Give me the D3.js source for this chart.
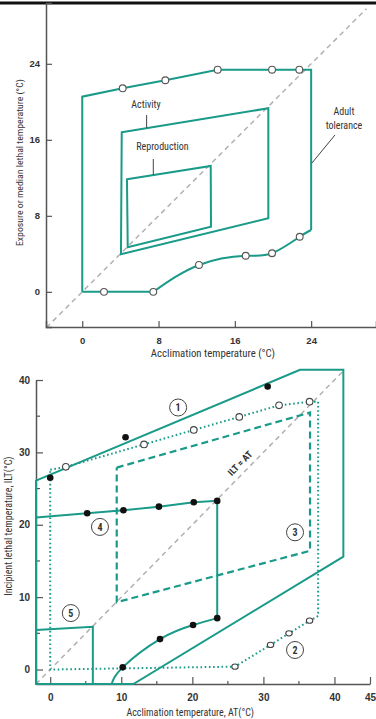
<!DOCTYPE html>
<html><head><meta charset="utf-8">
<script src="https://cdn.jsdelivr.net/npm/d3@7"></script>
<style>
html,body{margin:0;padding:0;background:#fff;}
svg{display:block;}
text{font-family:"Liberation Sans Narrow","Roboto Condensed","Arial Narrow","Liberation Sans",sans-serif;font-stretch:condensed;fill:#333;}
</style></head>
<body>
<svg id="c" width="376" height="719"></svg>
<script>
// ---------- Top chart data ----------
const topXTicks = [0, 8, 16, 24];
const topYTicks = [0, 8, 16, 24];
// Adult tolerance: upper bound (open circles) and lower bound (open circles)
const adultUpperX = [4.24, 8.71, 14.2, 19.9, 22.76];
const adultUpperY = [21.42, 22.27, 23.38, 23.38, 23.38];
const adultLowerX = [2.28, 7.45, 12.24, 17.14, 19.9, 22.8];
const adultLowerY = [0, 0, 2.83, 3.8, 4.06, 5.8];
const adultOutlineX = [0, 0, 4.24, 8.71, 14.2, 19.9, 22.76, 24.0, 24.0];
const adultOutlineY = [0, 20.54, 21.42, 22.27, 23.38, 23.38, 23.38, 23.38, 6.51];
const adultCurveX = [24.0, 22.8, 19.9, 17.14, 12.24, 7.45];
const adultCurveY = [6.51, 5.8, 4.06, 3.8, 2.83, 0];
const activityX = [4.14, 19.51, 19.51, 4.06];
const activityY = [16.79, 19.32, 7.74, 3.95];
const reproX = [4.69, 13.47, 13.5, 4.77];
const reproY = [11.85, 13.25, 6.86, 4.69];

// ---------- Bottom chart data ----------
const botXTicks = [0, 10, 20, 30, 40, 45];
const botXMinor = [5, 15, 25, 35];
const botYTicks = [0, 10, 20, 30, 40];
const botYMinor = [5, 15, 25, 35];
// 1: solid envelope
const env1X = [-2, 35.15, 41.25, 41.25, 11.7, -2];
const env1Y = [26.1, 41.4, 41.4, 15.6, -2, -2];
const dots1X = [0, 10.6, 30.6];
const dots1Y = [26.5, 32.1, 39.1];
// upper dotted (open circles)
const upOpenX = [2.2, 13.2, 20.2, 26.6, 32.2, 36.5];
const upOpenY = [28.0, 31.1, 33.1, 34.9, 36.5, 37.0];
// lower dotted (open circles, 2)
const lowOpenX = [26.0, 31.0, 33.6, 36.5];
const lowOpenY = [0.4, 3.4, 5.0, 6.75];
const dottedX = [0, 2.2, 13.2, 20.2, 26.6, 32.2, 36.5, 37.7, 37.7, 36.5, 33.6, 31.0, 26.0, 0, 0];
const dottedY = [27.6, 28.0, 31.1, 33.1, 34.9, 36.5, 37.0, 37.0, 7.4, 6.75, 5.0, 3.4, 0.4, 0, 27.6];
// 3: dashed
const dash3X = [9.36, 36.56, 36.56, 9.36, 9.36];
const dash3Y = [27.9, 35.5, 16.4, 9.3, 27.9];
// 4: solid with filled dots
const line4TopX = [-2, 5.2, 10.3, 15.3, 20.2, 23.5];
const line4TopY = [21.0, 21.6, 22.0, 22.5, 23.1, 23.3];
const line4CurveX = [23.5, 20.1, 15.45, 10.2, 8.65];
const line4CurveY = [7.1, 6.15, 4.2, 0.3, -2];
const dots4X = [5.2, 10.3, 15.3, 20.2, 23.5, 23.5, 20.1, 15.45, 10.2];
const dots4Y = [21.6, 22.0, 22.5, 23.1, 23.3, 7.1, 6.15, 4.2, 0.3];
// 5
const line5X = [-2, 6.0, 6.0];
const line5Y = [5.46, 5.9, -2];
// region labels
const regionLabels = ["1", "2", "3", "4", "5"];
const regionLabelX = [18.0, 34.45, 34.45, 7.0, 2.9];
const regionLabelY = [36.2, 2.7, 18.96, 19.7, 7.8];

const TEAL = "#1a9a88";
const AX = "#555";
const svg = d3.select("#c");
const zip = (xs, ys) => xs.map((v, i) => [v, ys[i]]);

// top rule
svg.append("line").attr("x1", 0).attr("x2", 376).attr("y1", 3).attr("y2", 3)
  .attr("stroke", "#111").attr("stroke-width", 3);

// ================= TOP CHART =================
{
  const x = d3.scaleLinear([-3.8, 30.8], [46, 376]);
  const y = d3.scaleLinear([-3.7, 30.4], [327, 3]);
  const g = svg.append("g");
  const line = d3.line().x(d => x(d[0])).y(d => y(d[1]));
  const curve = d3.line().x(d => x(d[0])).y(d => y(d[1])).curve(d3.curveNatural);

  // diagonal
  g.append("path").attr("d", line([[-3.75, -3.75], [29.8, 29.8]]))
    .attr("stroke", "#b0b0b0").attr("stroke-width", 1.5).attr("stroke-dasharray", "5,4").attr("fill", "none");

  // axes
  const xa = d3.axisBottom(x).tickValues(topXTicks).tickSize(-6).tickPadding(10).tickFormat(d3.format("d"));
  const ya = d3.axisLeft(y).tickValues(topYTicks).tickSize(-6).tickPadding(10).tickFormat(d3.format("d"));
  const gx = g.append("g").attr("transform", `translate(0,${y(-3.7)})`).call(xa);
  const gy = g.append("g").attr("transform", `translate(${x(-3.8)},0)`).call(ya);
  [gx, gy].forEach(a => {
    a.select(".domain").attr("stroke", AX).attr("stroke-width", 1.5);
    a.selectAll(".tick line").attr("stroke", AX).attr("stroke-width", 1.2);
    a.selectAll(".tick text").attr("fill", "#333").style("font-size", "9.5px").style("font-weight", "bold")
      .style("font-family", '"Liberation Sans Narrow","Arial Narrow",sans-serif');
  });
  gy.selectAll(".tick text").attr("dx", "4");

  // adult tolerance outline
  g.append("path").attr("d", line(zip(adultOutlineX, adultOutlineY)))
    .attr("fill", "none").attr("stroke", TEAL).attr("stroke-width", 2);
  g.append("path").attr("d", curve(zip(adultCurveX, adultCurveY).slice(0, 5).concat([[7.45, 0]])))
    .attr("fill", "none").attr("stroke", TEAL).attr("stroke-width", 2);
  g.append("path").attr("d", line([[7.45, 0], [0, 0]]))
    .attr("fill", "none").attr("stroke", TEAL).attr("stroke-width", 2);

  // activity & reproduction
  g.append("path").attr("d", line(zip(activityX, activityY)) + "Z")
    .attr("fill", "none").attr("stroke", TEAL).attr("stroke-width", 2);
  g.append("path").attr("d", line(zip(reproX, reproY)) + "Z")
    .attr("fill", "none").attr("stroke", TEAL).attr("stroke-width", 2);

  // open circles
  g.selectAll(".oc").data(zip(adultUpperX, adultUpperY).concat(zip(adultLowerX, adultLowerY)))
    .join("circle").attr("cx", d => x(d[0])).attr("cy", d => y(d[1])).attr("r", 3.4)
    .attr("fill", "#fff").attr("stroke", "#555").attr("stroke-width", 1.1);

  // annotations
  const ann = (t, xv, yv) => g.append("text").attr("x", x(xv)).attr("y", y(yv)).attr("text-anchor", "middle")
    .attr("dy", "0.35em").style("font-size", "10px").text(t);
  ann("Activity", 6.68, 19.77);
  ann("Reproduction", 8.41, 15.28);
  ann("Adult", 27.44, 18.93);
  ann("tolerance", 27.44, 17.49);
  const lead = (a, b) => g.append("path").attr("d", line([a, b])).attr("stroke", "#444").attr("stroke-width", 1).attr("fill", "none");
  lead([6.75, 18.61], [6.75, 17.25]);
  lead([7.45, 13.98], [7.45, 12.3]);
  lead([26.5, 16.51], [24.06, 13.53]);

  g.append("text").attr("x", x(13.7)).attr("y", 357).attr("text-anchor", "middle").style("font-size", "10.8px")
    .text("Acclimation temperature (°C)");
  g.append("text").attr("transform", `translate(23,${y(13.6)}) rotate(-90)`).attr("text-anchor", "middle").style("font-size", "9.8px")
    .text("Exposure or median lethal temperature (°C)");
}

// ================= BOTTOM CHART =================
{
  const x = d3.scaleLinear([-2, 45], [36, 370]);
  const y = d3.scaleLinear([-2, 40], [684, 380]);
  const g = svg.append("g");
  const line = d3.line().x(d => x(d[0])).y(d => y(d[1]));
  const curve = d3.line().x(d => x(d[0])).y(d => y(d[1])).curve(d3.curveNatural);

  g.append("path").attr("d", line([[-2, -2], [41.1, 41.1]]))
    .attr("stroke", "#b0b0b0").attr("stroke-width", 1.5).attr("stroke-dasharray", "5,4").attr("fill", "none");

  const xa = d3.axisBottom(x).tickValues(botXTicks).tickSize(-7).tickPadding(10).tickSizeOuter(0).tickFormat(d3.format("d"));
  const ya = d3.axisLeft(y).tickValues(botYTicks).tickSize(-7).tickPadding(10).tickSizeOuter(0).tickFormat(d3.format("d"));
  const gx = g.append("g").attr("transform", `translate(0,${y(-2)})`).call(xa);
  const gy = g.append("g").attr("transform", `translate(${x(-2)},0)`).call(ya);
  [gx, gy].forEach(a => {
    a.select(".domain").attr("stroke", AX).attr("stroke-width", 1.5);
    a.selectAll(".tick line").attr("stroke", AX).attr("stroke-width", 1.2);
    a.selectAll(".tick text").attr("fill", "#333").style("font-size", "10px").style("font-weight", "bold")
      .style("font-family", '"Liberation Sans Narrow","Arial Narrow",sans-serif');
  });
  gy.selectAll(".tick text").attr("dx", "4");
  g.selectAll(".xm").data(botXMinor).join("line").attr("x1", d => x(d)).attr("x2", d => x(d))
    .attr("y1", y(-2)).attr("y2", y(-2) - 3).attr("stroke", AX).attr("stroke-width", 1.2);
  g.selectAll(".ym").data(botYMinor).join("line").attr("y1", d => y(d)).attr("y2", d => y(d))
    .attr("x1", x(-2)).attr("x2", x(-2) + 4).attr("stroke", AX).attr("stroke-width", 1.2);

  // dotted region
  g.append("path").attr("d", line(zip(dottedX, dottedY)))
    .attr("fill", "none").attr("stroke", TEAL).attr("stroke-width", 2).attr("stroke-dasharray", "1.6,2.6");
  // dashed region 3
  g.append("path").attr("d", line(zip(dash3X, dash3Y)))
    .attr("fill", "none").attr("stroke", TEAL).attr("stroke-width", 2.2).attr("stroke-dasharray", "7,4");
  // envelope 1
  g.append("path").attr("d", line(zip(env1X, env1Y)) + "Z")
    .attr("fill", "none").attr("stroke", TEAL).attr("stroke-width", 2);
  // 4
  g.append("path").attr("d", line(zip(line4TopX, line4TopY)) + "L" + x(23.5) + "," + y(7.1))
    .attr("fill", "none").attr("stroke", TEAL).attr("stroke-width", 2);
  g.append("path").attr("d", curve(zip(line4CurveX, line4CurveY)))
    .attr("fill", "none").attr("stroke", TEAL).attr("stroke-width", 2);
  // 5
  g.append("path").attr("d", line(zip(line5X, line5Y)))
    .attr("fill", "none").attr("stroke", TEAL).attr("stroke-width", 2);

  // points
  g.selectAll(".fd").data(zip(dots1X, dots1Y).concat(zip(dots4X, dots4Y))).join("circle")
    .attr("cx", d => x(d[0])).attr("cy", d => y(d[1])).attr("r", 3.3).attr("fill", "#111");
  g.selectAll(".od").data(zip(upOpenX, upOpenY)).join("circle")
    .attr("cx", d => x(d[0])).attr("cy", d => y(d[1])).attr("r", 3.3)
    .attr("fill", "#fff").attr("stroke", "#444").attr("stroke-width", 1.1);
  g.selectAll(".od2").data(zip(lowOpenX, lowOpenY)).join("ellipse")
    .attr("cx", d => x(d[0])).attr("cy", d => y(d[1])).attr("rx", 3.2).attr("ry", 2.6)
    .attr("fill", "#fff").attr("stroke", "#444").attr("stroke-width", 1.1);

  // region labels
  const rl = g.selectAll(".rl").data(regionLabels.map((t, i) => ({ t, x: regionLabelX[i], y: regionLabelY[i] }))).join("g")
    .attr("transform", d => `translate(${x(d.x)},${y(d.y)})`);
  rl.append("circle").attr("r", 8.5).attr("fill", "#fff").attr("stroke", "#444").attr("stroke-width", 1);
  rl.append("text").attr("text-anchor", "middle").attr("dy", "0.36em").style("font-size", "10px").style("font-weight", "bold").text(d => d.t);

  // ILT = AT
  const ang = Math.atan2(y(0) - y(1), x(1) - x(0)) * 180 / Math.PI;
  g.append("text").attr("transform", `translate(${x(26.7)},${y(28.5)}) rotate(${-ang})`)
    .attr("text-anchor", "middle").attr("dy", "0.35em").style("font-size", "9.5px").style("font-weight", "bold").attr("fill", "#555")
    .text("ILT = AT");

  g.append("text").attr("x", x(19.7)).attr("y", 716).attr("text-anchor", "middle").style("font-size", "10px")
    .text("Acclimation temperature, AT(°C)");
  g.append("text").attr("transform", `translate(12,${y(19.8)}) rotate(-90)`).attr("text-anchor", "middle").style("font-size", "10px")
    .text("Incipient lethal temperature, ILT(°C)");
}
</script>
</body></html>
